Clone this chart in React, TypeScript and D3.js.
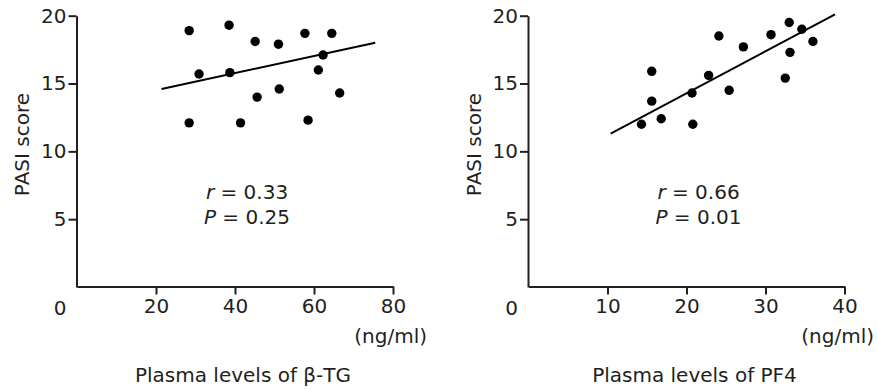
import React, { useEffect, useRef } from "react";
import * as d3 from "d3";

// beta-TG panel
const tgX = [28.4, 38.5, 28.4, 30.9, 38.7, 41.4, 45.1, 45.6, 51.0, 51.2, 57.7, 58.5, 61.1, 62.3, 64.5, 66.5];
const tgY = [18.9, 19.3, 12.1, 15.7, 15.8, 12.1, 18.1, 14.0, 17.9, 14.6, 18.7, 12.3, 16.0, 17.1, 18.7, 14.3];
const tgFitX = [21.4, 75.5];
const tgFitY = [14.6, 18.0];
const tgTicks = [20, 40, 60, 80];

// PF4 panel
const pf4X = [14.3, 15.6, 15.6, 16.8, 20.7, 20.8, 22.8, 24.1, 25.4, 27.2, 30.7, 32.5, 33.0, 33.1, 34.6, 36.0];
const pf4Y = [12.0, 15.9, 13.7, 12.4, 14.3, 12.0, 15.6, 18.5, 14.5, 17.7, 18.6, 15.4, 19.5, 17.3, 19.0, 18.1];
const pf4FitX = [10.4, 38.8];
const pf4FitY = [11.3, 20.1];
const pf4Ticks = [10, 20, 30, 40];

const yTicks = [5, 10, 15, 20];

const panels = [
  { xs: tgX, ys: tgY, fitX: tgFitX, fitY: tgFitY, ticks: tgTicks, xMax: 80, left: 77, r: "0.33", p: "0.25", title: "Plasma levels of β-TG" },
  { xs: pf4X, ys: pf4Y, fitX: pf4FitX, fitY: pf4FitY, ticks: pf4Ticks, xMax: 40, left: 528.5, r: "0.66", p: "0.01", title: "Plasma levels of PF4" },
];

const FONT = "'DejaVu Sans', sans-serif";
const FS = 20;
const INK = "#231f20";

const App: React.FC = () => {
  const svgRef = useRef<SVGSVGElement | null>(null);

  useEffect(() => {
    document.body.style.margin = "0";
    if (!svgRef.current) return;
    const svg = d3.select(svgRef.current);
    svg.selectAll("*").remove();

    const y = d3.scaleLinear().domain([0, 20]).range([287, 15.7]);

    panels.forEach((pn) => {
      const x = d3.scaleLinear().domain([0, pn.xMax]).range([pn.left, pn.left + 316]);
      const g = svg.append("g");

      const yAxis = g
        .append("g")
        .attr("transform", `translate(${pn.left - 0.5},0)`)
        .call(d3.axisLeft(y).tickValues(yTicks).tickSize(8).tickSizeOuter(0).tickPadding(2));
      const xAxis = g
        .append("g")
        .attr("transform", `translate(0,${y(0) - 0.5})`)
        .call(d3.axisBottom(x).tickValues(pn.ticks).tickSize(8).tickSizeOuter(0).tickPadding(4));

      [yAxis, xAxis].forEach((a) => {
        a.selectAll("path, line").attr("stroke", INK).attr("stroke-width", 2);
        a.selectAll("text").attr("fill", INK).attr("font-size", FS).attr("font-family", FONT);
      });

      const label = (tx: number, ty: number, s: string, anchor = "middle") =>
        g
          .append("text")
          .attr("x", tx)
          .attr("y", ty)
          .attr("text-anchor", anchor)
          .attr("font-size", FS)
          .attr("font-family", FONT)
          .attr("fill", INK)
          .text(s);

      // origin, unit, x title
      label(x(0) - 17, 315, "0");
      label(Math.min(x(pn.xMax) + 34, 874), 343, "(ng/ml)", "end");
      label((x.range()[0] + x.range()[1]) / 2 + 8, 382, pn.title);

      // y title
      g.append("text")
        .attr("transform", `translate(${pn.left - 48},${y(10.5)}) rotate(-90)`)
        .attr("text-anchor", "middle")
        .attr("font-size", FS)
        .attr("font-family", FONT)
        .attr("fill", INK)
        .text("PASI score");

      // regression line
      const line = d3
        .line<number>()
        .x((d) => x(d))
        .y((_, i) => y(pn.fitY[i]));
      g.append("path")
        .datum(pn.fitX)
        .attr("d", line)
        .attr("fill", "none")
        .attr("stroke", "#000")
        .attr("stroke-width", 2);

      // points
      g.selectAll("circle.pt")
        .data(pn.xs)
        .enter()
        .append("circle")
        .attr("class", "pt")
        .attr("cx", (d) => x(d))
        .attr("cy", (_, i) => y(pn.ys[i]))
        .attr("r", 4.7)
        .attr("fill", "#000");

      // stats
      const cx = pn.left + 170;
      [
        { k: "r", v: pn.r, yy: 199 },
        { k: "P", v: pn.p, yy: 224 },
      ].forEach((s) => {
        const t = label(cx, s.yy, "");
        t.append("tspan").attr("font-style", "italic").text(s.k);
        t.append("tspan").text(` = ${s.v}`);
      });
    });
  }, []);

  return <svg ref={svgRef} width={877} height={390} style={{ display: "block", background: "#fff" }} />;
};

export default App;
